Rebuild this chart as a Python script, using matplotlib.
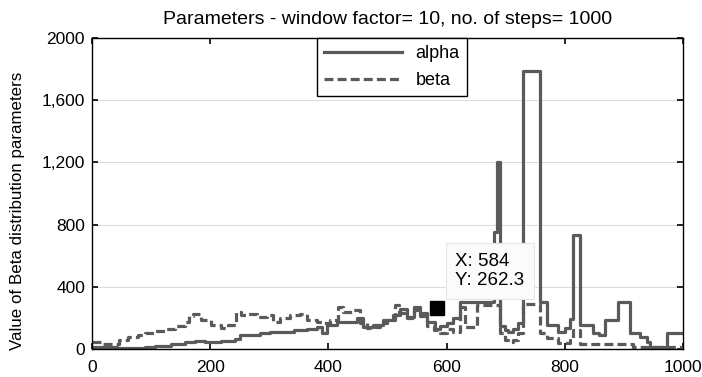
import matplotlib
matplotlib.use("Agg")
import matplotlib.pyplot as plt

plt.rcParams['font.family'] = ['Liberation Sans', 'DejaVu Sans']

title = "Parameters - window factor= 10, no. of steps= 1000"
ylabel = "Value of Beta distribution parameters"
series_names = ["alpha", "beta"]

alpha_x = [0, 43, 90, 107, 134, 157, 174, 191, 218, 242, 250, 284, 301, 324, 341, 363,
           380, 389, 397, 414, 433, 448, 459, 476, 493, 510, 521, 533, 544, 555, 566,
           580, 589, 600, 611, 623, 651, 680, 685, 690, 698, 704, 712, 720, 729, 758,
           770, 789, 800, 808, 814, 826, 848, 858, 868, 890, 910, 927, 939, 944, 973, 1000]
alpha_y = [13, 6, 12, 19, 32, 45, 54, 45, 54, 62, 90, 103, 109, 111, 122, 128,
           141, 103, 154, 176, 176, 199, 143, 154, 186, 219, 260, 208, 270, 231, 176,
           130, 150, 170, 200, 305, 300, 750, 1200, 150, 120, 110, 130, 170, 1790, 300,
           154, 111, 135, 193, 730, 154, 103, 90, 186, 300, 103, 80, 47, 15, 103, 103]

beta_x = [0, 18, 45, 61, 78, 90, 107, 123, 140, 157, 165, 171, 184, 201, 218, 230, 244,
          252, 260, 279, 296, 306, 318, 335, 352, 363, 380, 391, 403, 416, 425, 442,
          453, 465, 476, 487, 499, 513, 520, 533, 544, 555, 566, 578, 589, 600, 611,
          623, 631, 651, 690, 698, 704, 712, 720, 729, 758, 770, 789, 808, 814, 826,
          915, 1000]
beta_y = [43, 32, 58, 80, 92, 103, 118, 128, 148, 176, 210, 225, 186, 154, 135, 154, 240,
          219, 225, 208, 219, 176, 199, 219, 225, 186, 176, 167, 186, 272, 240, 251,
          167, 135, 143, 167, 186, 283, 230, 200, 250, 210, 150, 120, 103, 130, 110,
          270, 140, 283, 100, 60, 47, 60, 100, 290, 100, 70, 38, 55, 120, 35,
          13, 13]

marker_x = 584
marker_y = 262.3

yticks = [0, 400, 800, 1200, 1600, 2000]
ytick_labels = ["0", "400", "800", "1,200", "1,600", "2000"]
xticks = [0, 200, 400, 600, 800, 1000]
xtick_labels = ["0", "200", "400", "600", "800", "1000"]

fig = plt.figure(figsize=(7.02, 3.77), dpi=100)
ax = fig.add_axes([0.131, 0.0743, 0.842, 0.825])

col = '#5a5a5a'
ax.plot(alpha_x, alpha_y, drawstyle='steps-post', color=col, lw=2.3, label=series_names[0])
ax.plot(beta_x, beta_y, drawstyle='steps-post', color=col, lw=2.3, ls=(0, (2.8, 1.3)),
        label=series_names[1])

ax.set_xlim(0, 1000)
ax.set_ylim(0, 2000)
ax.set_yticks(yticks)
ax.set_yticklabels(ytick_labels)
ax.set_xticks(xticks)
ax.set_xticklabels(xtick_labels)
ax.tick_params(direction='in', top=True, right=True, length=4, width=1.2, labelsize=12.5,
               colors='black')
ax.tick_params(axis='x', pad=8)
ax.tick_params(axis='y', pad=5)
ax.grid(axis='y', color='#dcdcdc', lw=0.8)
ax.set_axisbelow(True)
for s in ax.spines.values():
    s.set_color('black')
    s.set_linewidth(1.0)

ax.set_title(title, fontsize=14, pad=10)
ax.set_ylabel(ylabel, fontsize=12.2)
ax.yaxis.set_label_coords(-0.113, 0.444)

leg = ax.legend(loc='upper left', bbox_to_anchor=(0.381, 1.0), frameon=True, fancybox=False,
                edgecolor='black', framealpha=1, handlelength=4.3, fontsize=13,
                borderpad=0.4, labelspacing=0.55, handletextpad=0.75, borderaxespad=0)
leg.get_frame().set_linewidth(1.0)

ax.plot([marker_x], [marker_y], marker='s', ms=9.5, color='black', zorder=5)
ax.annotate("X: %d\nY: %.1f" % (marker_x, marker_y), xy=(marker_x, marker_y),
            xytext=(18, 19), textcoords='offset pixels', ha='left', va='bottom',
            fontsize=13.5, linespacing=1.2, zorder=6,
            bbox=dict(boxstyle='square,pad=0.5', fc='#fbfbfb', ec='#e6e6e6', lw=0.8))

fig.savefig("out.png", dpi=100)
